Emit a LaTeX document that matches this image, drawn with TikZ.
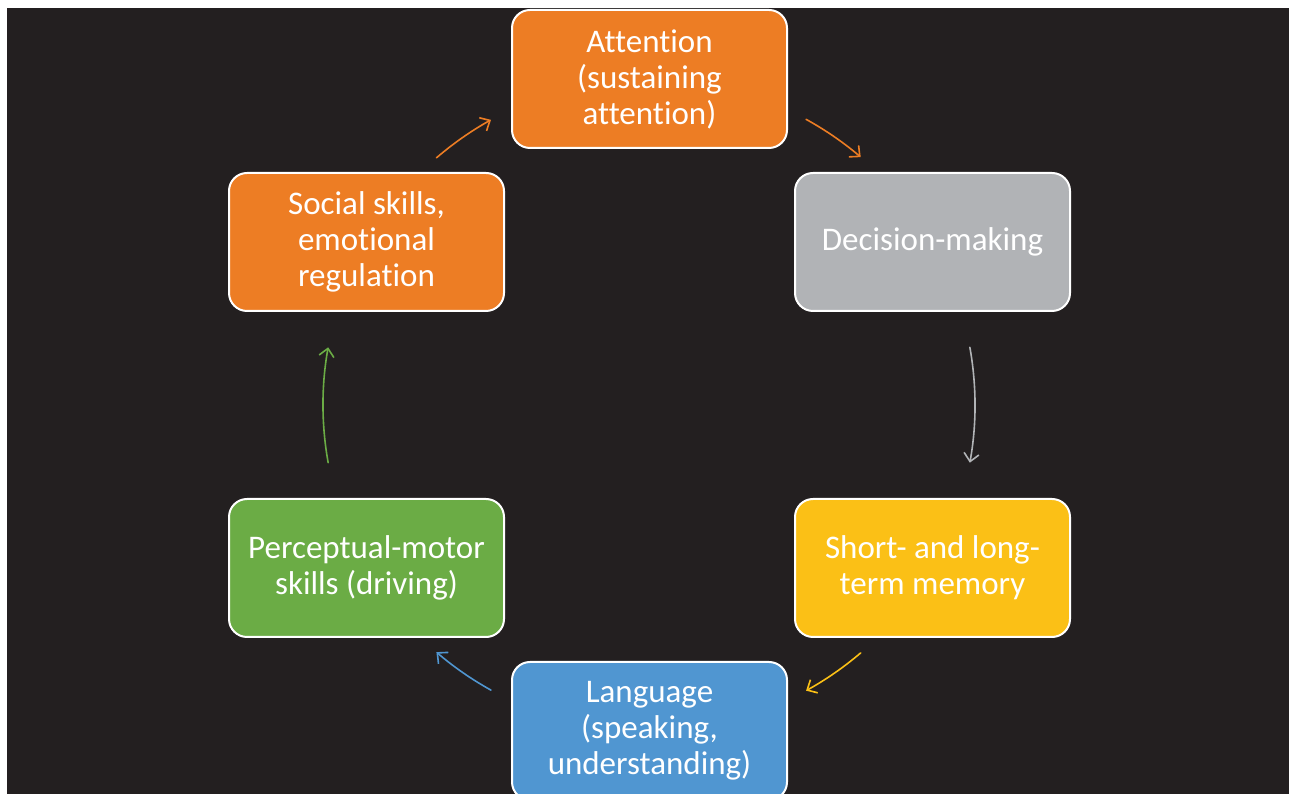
\documentclass[tikz,border=0pt]{standalone}
\usepackage{fontspec}
\setmainfont{Carlito}[Ligatures=NoCommon]
\usetikzlibrary{arrows.meta}
\definecolor{bgdark}{RGB}{35,31,32}
\definecolor{attorange}{RGB}{237,125,36}
\definecolor{decgray}{RGB}{177,179,182}
\definecolor{memyellow}{RGB}{251,192,22}
\definecolor{langblue}{RGB}{80,150,209}
\definecolor{percgreen}{RGB}{107,172,69}

\begin{document}
\begin{tikzpicture}[line cap=round,line join=round,>={Straight Barb[length=8pt,width=15pt]},x=1pt,y=1pt,
  stage/.style={draw=white,line width=2pt,rounded corners=18pt,minimum width=275pt,minimum height=138pt,
    text=white,align=center,font=\fontsize{33}{36}\selectfont,inner sep=0pt},
  link/.style={->,line width=1.6pt}]
\useasboundingbox (0,0) rectangle (1289,794);
\fill[white] (0,0) rectangle (1289,794);
\fill[bgdark] (7,0) rectangle (1289,786);
\coordinate (hub) at (649,389);
\node[stage,fill=attorange] (att) at (649.5,715) {Attention\\(sustaining\\attention)};
\node[stage,fill=decgray] (dec) at (932.5,552) {Decision-making};
\node[stage,fill=memyellow] (mem) at (932.5,226) {Short- and long-\\term memory};
\node[stage,fill=langblue] (lang) at (649.5,63) {Language\\(speaking,\\understanding)};
\node[stage,fill=percgreen] (perc) at (366.5,226) {Perceptual-motor\\skills (driving)};
\node[stage,fill=attorange] (soc) at (366.5,552) {Social skills,\\emotional\\regulation};
% cycle arrows, arcs round the hub
\foreach \a/\b/\c in {130.7/119/attorange,61.2/49.5/attorange,10.2/-10.2/decgray,
  -49.5/-61.2/memyellow,-119/-130.7/langblue,-169.8/-190.2/percgreen}
\draw[link,\c] ([shift={(\a:326)}]hub) arc[start angle=\a,end angle=\b,radius=326];
\end{tikzpicture}
\end{document}
